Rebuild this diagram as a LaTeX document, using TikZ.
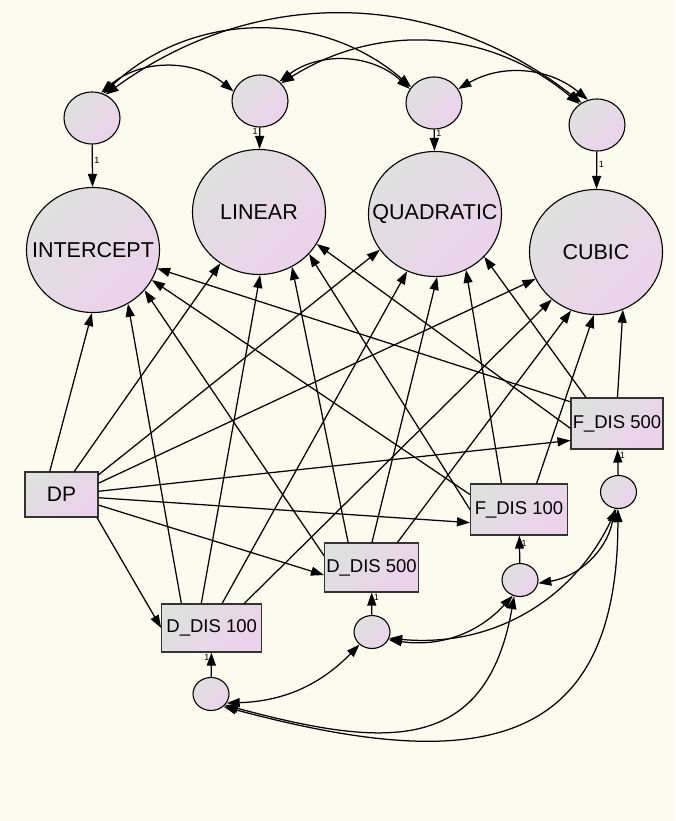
\documentclass[tikz,border=0pt]{standalone}
\usepackage{fontspec}
\setmainfont{Liberation Sans}
\usepackage{tikz}
\usetikzlibrary{shapes, arrows.meta, positioning}

\definecolor{bgcream}{RGB}{252,252,238}
\definecolor{fillgray}{RGB}{222,225,222}
\definecolor{fillpink}{RGB}{236,210,236}

\newcommand{\factortext}[1]{\makebox[0pt]{#1}}

\tikzset{
	shadefill/.style={left color=fillgray, right color=fillpink, shading angle=45},
	factor/.style={ellipse, draw, line width=1.1pt, shadefill, minimum width=133pt, minimum height=125pt, inner sep=0pt, font=\fontsize{21.5}{22}\selectfont},
	err/.style={ellipse, draw, line width=1.1pt, shadefill, minimum width=56pt, minimum height=52pt, inner sep=0pt},
	res/.style={ellipse, draw, line width=1.1pt, shadefill, minimum width=36pt, minimum height=33pt, inner sep=0pt},
	obs/.style={rectangle, draw=black!80, line width=1.1pt, shadefill, inner sep=0pt, font=\fontsize{18.5}{19}\selectfont},
	reg/.style={-{Triangle[length=13pt,width=9pt]}, line width=1.25pt},
	cov/.style={{Triangle[length=13pt,width=9pt]}-{Triangle[length=13pt,width=9pt]}, line width=1.25pt},
	one/.style={font=\fontsize{9}{9}\selectfont, inner sep=1.5pt},
}

\begin{document}
\begin{tikzpicture}[x=1pt, y=-1pt]
		% Background
		\useasboundingbox (0,0) rectangle (675,821);
		\fill[bgcream] (0,0) rectangle (675,821);

		% Growth factors
		\node[factor] (int) at (93,250) {\factortext{INTERCEPT}};
		\node[factor] (lin) at (259,212) {\factortext{LINEAR}};
		\node[factor] (qua) at (435,214) {\factortext{QUADRATIC}};
		\node[factor] (cub) at (596,252) {\factortext{CUBIC}};

		% Factor disturbances
		\node[err] (e1) at (92,118) {};
		\node[err] (e2) at (260,101) {};
		\node[err] (e3) at (434,103) {};
		\node[err] (e4) at (597,125) {};

		% Observed variables
		\node[obs, minimum width=73pt, minimum height=45pt, font=\fontsize{21}{21}\selectfont] (dp) at (61.5,494.5) {DP};
		\node[obs, minimum width=100pt, minimum height=48pt] (dd100) at (211.7,628) {D\_DIS 100};
		\node[obs, minimum width=94pt, minimum height=49pt] (dd500) at (371.5,567.5) {D\_DIS 500};
		\node[obs, minimum width=97pt, minimum height=51pt] (fd100) at (519,509.5) {F\_DIS 100};
		\node[obs, minimum width=92pt, minimum height=51pt] (fd500) at (617,423.5) {F\_DIS 500};

		% Residuals
		\node[res] (d1) at (211,694) {};
		\node[res] (d2) at (372,632) {};
		\node[res] (d3) at (520,580) {};
		\node[res] (d4) at (618.5,492) {};

		% Fixed paths
		\draw[reg] (e1) -- node[one, pos=0.37, right] {1} (int);
		\draw[reg] (e2) -- node[one, pos=0.2, left] {1} (lin);
		\draw[reg] (e3) -- node[one, pos=0.2, right] {1} (qua);
		\draw[reg] (e4) -- node[one, pos=0.35, right] {1} (cub);
		\draw[reg] (d4) -- node[one, pos=0.77, right] {1} (fd500);
		\draw[reg] (d3) -- node[one, pos=0.7, right] {1} (fd100);
		\draw[reg] (d2) -- node[one, pos=0.78, right] {1} (dd500);
		\draw[reg] (d1) -- node[one, pos=0.8, left] {1} (dd100);

		% DP
		\draw[reg] (dp.117) -- (int.-91);
		\draw[reg] (dp.61) -- (lin.-127);
		\draw[reg] (dp.28) -- (qua.-147);
		\draw[reg] (dp.17.5) -- (cub.-156);
		\draw[reg] (dp.5.5) -- (fd500.200);
		\draw[reg] (dp.-5.5) -- (fd100.195);
		\draw[reg] (dp.-16) -- (dd500.189);
		\draw[reg] (dp.-33) -- (dd100.west);

		% D_DIS 100
		\draw[reg] (dd100.141) -- (int.-57);
		\draw[reg] (dd100.113) -- (lin.-89);
		\draw[reg] (dd100.67) -- (qua.-116);
		\draw[reg] (dd100.37) -- (cub.-133);

		% D_DIS 500
		\draw[reg] (dd500.166) -- (int.-38);
		\draw[reg] (dd500.133) -- (lin.-59);
		\draw[reg] (dd500.89.5) -- (qua.-88);
		\draw[reg] (dd500.44) -- (cub.-113);

		% F_DIS 100
		\draw[reg] (fd100.163) -- (int.-27);
		\draw[reg] (fd100.180) -- (lin.-40);
		\draw[reg] (fd100.124) -- (qua.-61);
		\draw[reg] (fd100.56) -- (cub.-92);

		% F_DIS 500
		\draw[reg] (fd500.155) -- (int.-16);
		\draw[reg] (fd500.186) -- (lin.-29);
		\draw[reg] (fd500.140) -- (qua.-41);
		\draw[reg] (fd500.89) -- (cub.-65);

		% Covariances, factor disturbances
		\draw[cov] (e1.60) to[bend left=37] (e4.125);
		\draw[cov] (e1.65) to[bend left=42] (e3.145);
		\draw[cov] (e1.70) to[bend left=40] (e2.160);
		\draw[cov] (e2.45) to[bend left=40] (e3.150);
		\draw[cov] (e2.40) to[bend left=36] (e4.130);
		\draw[cov] (e3.30) to[bend left=35] (e4.110);

		% Covariances, residuals
		\draw[cov] (d1.-30) to[bend right=22] (d2.-135);
		\draw[cov] (d1.-38) to[out=-15, in=-100, looseness=1.35] (d3.-110);
		\draw[cov] (d1.-45) to[out=-15, in=-90, looseness=1.45] (d4.-92);
		\draw[cov] (d2.-25) to[bend right=28] (d3.-115);
		\draw[cov] (d2.-20) to[bend right=35] (d4.-97);
		\draw[cov] (d3.-10) to[bend right=35] (d4.-102);
	\end{tikzpicture}
\end{document}
